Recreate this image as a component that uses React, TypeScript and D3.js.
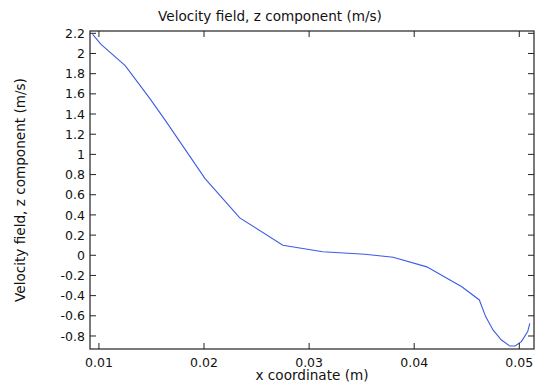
import React from "react";
import * as d3 from "d3";

const xValues = [0.0094, 0.0102, 0.0125, 0.0148, 0.0163, 0.0201, 0.0234, 0.0275, 0.0313, 0.0353, 0.0380, 0.0412, 0.0434, 0.0445, 0.0462, 0.0468, 0.0475, 0.0483, 0.0491, 0.0496, 0.0502, 0.0508, 0.0510];
const yValues = [2.19, 2.09, 1.88, 1.56, 1.34, 0.76, 0.37, 0.10, 0.035, 0.01, -0.02, -0.115, -0.245, -0.31, -0.443, -0.608, -0.74, -0.84, -0.9, -0.9, -0.856, -0.757, -0.674];
const xTicks = [0.01, 0.02, 0.03, 0.04, 0.05];
const yTicks = [2.2, 2, 1.8, 1.6, 1.4, 1.2, 1, 0.8, 0.6, 0.4, 0.2, 0, -0.2, -0.4, -0.6, -0.8];
const title = "Velocity field, z component (m/s)";
const xLabel = "x coordinate (m)";
const yLabel = "Velocity field, z component (m/s)";

const W = 539, H = 386;
const L = 90, R = 534, T = 31, B = 349;
const font = "DejaVu Sans, sans-serif";
const fs = 12.5;
const fsLabel = 13.6;

export default function App() {
  const x = d3.scaleLinear().domain([0.00915, 0.0514]).range([L, R]);
  const y = d3.scaleLinear().domain([-0.929, 2.223]).range([B, T]);
  const pts = xValues.map((v, i) => [v, yValues[i]] as [number, number]);
  const line = d3.line<[number, number]>().x(d => x(d[0])).y(d => y(d[1]));
  const fmt = (v: number) => (Math.abs(v) < 1e-9 ? "0" : String(+v.toFixed(2)));
  const tl = 6;
  return (
    <svg width={W} height={H} style={{ position: "absolute", left: 0, top: 0, background: "#fff" }}>
      <rect x={0} y={0} width={W} height={H} fill="#fff" />
      <text x={270} y={21} textAnchor="middle" fontFamily={font} fontSize={fsLabel} fill="#111">{title}</text>
      <path d={line(pts) || ""} fill="none" stroke="#3b5ce6" strokeWidth={1.1} />
      <rect x={L} y={T} width={R - L} height={B - T} fill="none" stroke="#222" strokeWidth={1.2} />
      {xTicks.map(t => (
        <g key={"x" + t}>
          <line x1={x(t)} x2={x(t)} y1={B} y2={B - tl} stroke="#222" />
          <line x1={x(t)} x2={x(t)} y1={T} y2={T + tl} stroke="#222" />
          <text x={x(t)} y={366.5} textAnchor="middle" fontFamily={font} fontSize={fs} fill="#111">{fmt(t)}</text>
        </g>
      ))}
      {yTicks.map(t => (
        <g key={"y" + t}>
          <line x1={L} x2={L + tl} y1={y(t)} y2={y(t)} stroke="#222" />
          <line x1={R} x2={R - tl} y1={y(t)} y2={y(t)} stroke="#222" />
          <text x={85} y={y(t) + 4.6} textAnchor="end" fontFamily={font} fontSize={fs} fill="#111">{fmt(t)}</text>
        </g>
      ))}
      <text x={(L + R) / 2} y={380} textAnchor="middle" fontFamily={font} fontSize={fsLabel} fill="#111">{xLabel}</text>
      <text transform={`translate(25,${(T + B) / 2}) rotate(-90)`} textAnchor="middle" fontFamily={font} fontSize={fsLabel} fill="#111">{yLabel}</text>
    </svg>
  );
}
